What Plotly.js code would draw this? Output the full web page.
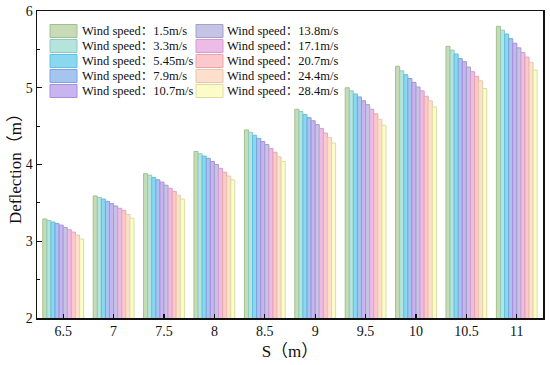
<!DOCTYPE html>
<html>
<head>
<meta charset="utf-8">
<script src="https://cdn.plot.ly/plotly-3.0.1.min.js"></script>
<style>html,body{margin:0;padding:0;background:#fff;}#chart{width:550px;height:365px;}</style>
</head>
<body>
<div id="chart"></div>
<script>
// Categories (span S, m)
const spans = ["6.5", "7", "7.5", "8", "8.5", "9", "9.5", "10", "10.5", "11"];
// Wind speeds (m/s) - one series each
const windSpeeds = ["1.5", "3.3", "5.45", "7.9", "10.7", "13.8", "17.1", "20.7", "24.4", "28.4"];
// Deflection values (m), one array per wind speed, across spans
const ws1_5  = [3.29, 3.59, 3.88, 4.17, 4.45, 4.72, 5.00, 5.28, 5.54, 5.80];
const ws3_3  = [3.27, 3.57, 3.86, 4.14, 4.42, 4.69, 4.96, 5.22, 5.49, 5.75];
const ws5_45 = [3.25, 3.55, 3.83, 4.11, 4.38, 4.65, 4.92, 5.17, 5.44, 5.70];
const ws7_9  = [3.23, 3.52, 3.80, 4.08, 4.34, 4.61, 4.88, 5.12, 5.38, 5.64];
const ws10_7 = [3.21, 3.49, 3.77, 4.04, 4.30, 4.57, 4.83, 5.07, 5.34, 5.58];
const ws13_8 = [3.18, 3.46, 3.73, 4.00, 4.26, 4.52, 4.78, 5.01, 5.27, 5.52];
const ws17_1 = [3.15, 3.43, 3.69, 3.95, 4.21, 4.47, 4.72, 4.96, 5.21, 5.46];
const ws20_7 = [3.12, 3.40, 3.65, 3.90, 4.16, 4.41, 4.66, 4.89, 5.15, 5.40];
const ws24_4 = [3.08, 3.35, 3.60, 3.85, 4.10, 4.35, 4.59, 4.83, 5.09, 5.33];
const ws28_4 = [3.03, 3.30, 3.55, 3.80, 4.04, 4.28, 4.51, 4.75, 4.99, 5.23];
const seriesValues = [ws1_5, ws3_3, ws5_45, ws7_9, ws10_7, ws13_8, ws17_1, ws20_7, ws24_4, ws28_4];

const fillColors = ["#c7dcb6", "#b4e4dc", "#8ad8f0", "#a6c4f0", "#c8b4ee", "#c6c4e4", "#ecbce6", "#fcc8cc", "#fde0cc", "#fcfcc8"];
const lineColors = ["#a2c08e", "#8ecac0", "#62c0e0", "#7ea2dc", "#a88edc", "#a2a0cc", "#d49ccf", "#e8a6ab", "#e9c6ac", "#dcdca2"];

const serif = "'Liberation Serif', 'Noto Sans CJK SC', serif";

const traces = seriesValues.map((vals, i) => ({
  type: "bar",
  name: "Wind speed：" + windSpeeds[i] + "m/s",
  x: spans,
  y: vals,
  marker: {color: fillColors[i], line: {color: lineColors[i], width: 1}},
  showlegend: false,
  hoverinfo: "x+y+name"
}));

// Plot-area geometry (px) used to place the custom legend
const L = 37, R = 543, T = 11, B = 318;
const pw = R - L, ph = B - T;
const px = x => (x - L) / pw;
const py = y => (B - y) / ph;

const rowY = [31, 46, 61, 76, 91];
const colSwatchX = [50, 196];
const colTextX = [80, 225];

const shapes = [];
const annotations = [];
windSpeeds.forEach((w, i) => {
  const col = Math.floor(i / 5), row = i % 5;
  const yc = rowY[row];
  shapes.push({
    type: "rect", xref: "paper", yref: "paper",
    x0: px(colSwatchX[col]), x1: px(colSwatchX[col] + 27),
    y0: py(yc - 6.5), y1: py(yc + 6.5),
    fillcolor: fillColors[i], line: {color: lineColors[i], width: 1}
  });
  annotations.push({
    xref: "paper", yref: "paper", x: px(colTextX[col]), y: py(yc),
    xanchor: "left", yanchor: "middle", showarrow: false,
    text: "Wind speed：" + w + "m/s",
    font: {family: serif, size: 12.5, color: "#111"}
  });
});

const layout = {
  width: 550, height: 365,
  margin: {l: L, r: 550 - R, t: T, b: 365 - B},
  paper_bgcolor: "#fff", plot_bgcolor: "#fff",
  barmode: "group", bargap: 0.19, bargroupgap: 0,
  showlegend: false,
  font: {family: serif, size: 14, color: "#111"},
  xaxis: {
    type: "category", range: [-0.52, 9.52],
    showline: true, linecolor: "#111", linewidth: 1.5, mirror: true,
    ticks: "inside", ticklen: 4, tickwidth: 1.2, tickcolor: "#111",
    showgrid: false, zeroline: false,
    tickfont: {family: serif, size: 14, color: "#111"},
    title: {text: "S（m）", font: {family: serif, size: 17, color: "#111"}, standoff: 7}
  },
  yaxis: {
    range: [2, 6], tickvals: [2, 3, 4, 5, 6],
    showline: true, linecolor: "#111", linewidth: 1.5, mirror: true,
    ticks: "inside", ticklen: 5, tickwidth: 1.2, tickcolor: "#111",
    minor: {dtick: 0.5, tick0: 2, ticks: "inside", ticklen: 3, tickcolor: "#111", tickwidth: 1, showgrid: false},
    showgrid: false, zeroline: false,
    tickfont: {family: serif, size: 14, color: "#111"},
    title: {text: "Deflection（m）", font: {family: serif, size: 17, color: "#111"}, standoff: 0}
  },
  shapes: shapes,
  annotations: annotations
};

Plotly.newPlot("chart", traces, layout, {displayModeBar: false, staticPlot: true});
</script>
</body>
</html>
